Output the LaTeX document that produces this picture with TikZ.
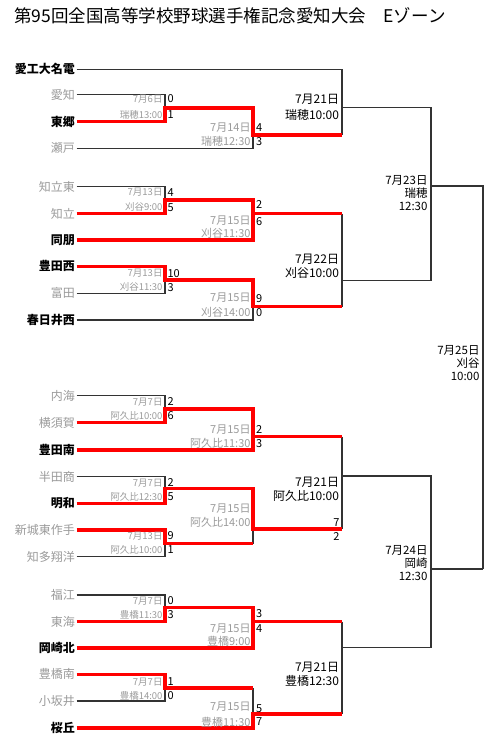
\documentclass[tikz,border=0pt]{standalone}
\usepackage{fontspec}
\setmainfont{Noto Sans CJK JP}
\usepackage{tikz}
\usetikzlibrary{calc}
\definecolor{fade}{HTML}{9A9A9A}
\definecolor{bracket}{HTML}{333333}
\definecolor{winred}{HTML}{FF0000}

\begin{document}
\begin{tikzpicture}[x=1pt,y=-1pt,
  team/.style={anchor=east,inner sep=1.5pt,font=\fontsize{12}{14}\selectfont},
  strong/.style={team,font=\fontsize{12}{14}\selectfont\bfseries},
  lost/.style={team,text=fade},
  bline/.style={draw=bracket,line width=1.1pt},
  rline/.style={draw=winred,line width=3.2pt},
  dayone/.style={anchor=east,inner sep=0.8pt,text=fade,font=\fontsize{9.5}{10}\selectfont},
  daytwo/.style={anchor=east,inner sep=0.8pt,text=fade,font=\fontsize{11}{12}\selectfont},
  daylate/.style={anchor=east,inner sep=0.8pt,align=right,font=\fontsize{12}{13}\selectfont},
  dayfinal/.style={daylate,font=\fontsize{11.5}{13}\selectfont},
  score/.style={anchor=west,inner sep=0.8pt,font=\fontsize{11}{12}\selectfont},
]
  \useasboundingbox (0,0) rectangle (500,745);
  \node[anchor=west,inner sep=0pt,font=\fontsize{17.5}{18}\selectfont] (title) at (14,16) {第95回全国高等学校野球選手権記念愛知大会　Eゾーン};

  % teams
  \node[strong] (aikodai) at (76.5,69.3) {愛工大名電};
  \node[lost] (aichi) at (76.5,94.5) {愛知};
  \node[strong] (togo) at (76.5,121.7) {東郷};
  \node[lost] (seto) at (76.5,148.3) {瀬戸};
  \node[lost] (chiryuh) at (76.5,186.8) {知立東};
  \node[lost] (chiryu) at (76.5,213.5) {知立};
  \node[strong] (doho) at (76.5,240) {同朋};
  \node[strong] (toyotan) at (76.5,266.3) {豊田西};
  \node[lost] (tomida) at (76.5,293.3) {富田};
  \node[strong] (kasugai) at (76.5,320) {春日井西};
  \node[lost] (utsumi) at (76.5,395.5) {内海};
  \node[lost] (yokosuka) at (76.5,422.5) {横須賀};
  \node[strong] (toyotas) at (76.5,450) {豊田南};
  \node[lost] (handa) at (76.5,476.7) {半田商};
  \node[strong] (meiwa) at (76.5,503.3) {明和};
  \node[lost] (shinshiro) at (76.5,530) {新城東作手};
  \node[lost] (chita) at (76.5,556.5) {知多翔洋};
  \node[lost] (fukue) at (76.5,595) {福江};
  \node[lost] (tokai) at (76.5,621.7) {東海};
  \node[strong] (okazaki) at (76.5,648) {岡崎北};
  \node[lost] (toyohashi) at (76.5,674.3) {豊橋南};
  \node[lost] (kozakai) at (76.5,701) {小坂井};
  \node[strong] (sakura) at (76.5,728) {桜丘};

  % match points
  \coordinate (m1a) at (165,108);
  \coordinate (m1b) at (165,200);
  \coordinate (m1c) at (165,280);
  \coordinate (m1d) at (165,409);
  \coordinate (m1e) at (165,488.5);
  \coordinate (m1f) at (165,543.3);
  \coordinate (m1g) at (165,607.5);
  \coordinate (m1h) at (165,688);
  \coordinate (m2a) at (253,135);
  \coordinate (m2b) at (253,213.5);
  \coordinate (m2c) at (253,306.7);
  \coordinate (m2d) at (253,436.7);
  \coordinate (m2e) at (253,529);
  \coordinate (m2f) at (253,621.5);
  \coordinate (m2g) at (253,714);
  \coordinate (m3a) at (342,107.5);
  \coordinate (m3b) at (342,280.7);
  \coordinate (m3c) at (342,476);
  \coordinate (m3d) at (342,647.7);
  \coordinate (m4a) at (431,186);
  \coordinate (m4b) at (431,569);
  \coordinate (fin) at (483,569);

  % bracket
  \draw[bline] (aikodai.east) -| (m3a) -- (m3a |- m2a);
  \draw[bline] (aichi.east) -| (m1a);
  \draw[bline] (seto.east) -| (m2a);
  \draw[bline] (chiryuh.east) -| (m1b);
  \draw[bline] (tomida.east) -| (m1c);
  \draw[bline] (kasugai.east) -| (m2c);
  \draw[bline] (m3b |- m2b) -- (m3b |- m2c);
  \draw[bline] (m3a) -| (m4a) (m3b) -| (m4a);
  \draw[bline] (utsumi.east) -| (m1d);
  \draw[bline] (handa.east) -| (m1e);
  \draw[bline] (chita.east) -| (m1f) -| (m2e);
  \draw[bline] (fukue.east) -| (m1g);
  \draw[bline] (kozakai.east) -| (m1h);
  \draw[bline] (m2g |- m1h) -- (m2g);
  \draw[bline] (m3c |- m2d) -- (m3c |- m2e);
  \draw[bline] (m3d |- m2f) -- (m3d |- m2g);
  \draw[bline] (m3c) -| (m4b) (m3d) -| (m4b);
  \draw[bline] (m4a) -| (fin) (m4b) -- (fin);

  % winners
  \draw[rline] (togo.east) -| (m1a) -| (m2a) -- (m3a |- m2a);
  \draw[rline] (chiryu.east) -| (m1b) -| (m2b);
  \draw[rline] (doho.east) -| (m2b) -- (m3b |- m2b);
  \draw[rline] (toyotan.east) -| (m1c) -| (m2c) -- (m3b |- m2c);
  \draw[rline] (yokosuka.east) -| (m1d) -| (m2d);
  \draw[rline] (toyotas.east) -| (m2d) -- (m3c |- m2d);
  \draw[rline] (meiwa.east) -| (m1e) -| (m2e) -- (m3c |- m2e);
  \draw[rline] (shinshiro.east) -| (m1f) -- (m2e |- m1f);
  \draw[rline] (tokai.east) -| (m1g) -| (m2f);
  \draw[rline] (okazaki.east) -| (m2f) -- (m3d |- m2f);
  \draw[rline] (toyohashi.east) -| (m1h) -- (m2g |- m1h);
  \draw[rline] (sakura.east) -| (m2g) -- (m3d |- m2g);

  % first round
  \node[dayone] (d1a) at (163.5,99) {7月6日};
  \node[dayone] (v1a) at (163.5,115) {瑞穂13:00};
  \node[score] (s1a) at (166.5,99) {0};
  \node[score] (t1a) at (166.5,115) {1};
  \node[dayone] (d1b) at (163.5,192.3) {7月13日};
  \node[dayone] (v1b) at (163.5,207.3) {刈谷9:00};
  \node[score] (s1b) at (166.5,192.3) {4};
  \node[score] (t1b) at (166.5,207.3) {5};
  \node[dayone] (d1c) at (163.5,273.3) {7月13日};
  \node[dayone] (v1c) at (163.5,287.3) {刈谷11:30};
  \node[score] (s1c) at (166.5,273.3) {10};
  \node[score] (t1c) at (166.5,287.3) {3};
  \node[dayone] (d1d) at (163.5,401.7) {7月7日};
  \node[dayone] (v1d) at (163.5,415.7) {阿久比10:00};
  \node[score] (s1d) at (166.5,401.7) {2};
  \node[score] (t1d) at (166.5,415.7) {6};
  \node[dayone] (d1e) at (163.5,482.7) {7月7日};
  \node[dayone] (v1e) at (163.5,496.7) {阿久比12:30};
  \node[score] (s1e) at (166.5,482.7) {2};
  \node[score] (t1e) at (166.5,496.7) {5};
  \node[dayone] (d1f) at (163.5,536) {7月13日};
  \node[dayone] (v1f) at (163.5,550) {阿久比10:00};
  \node[score] (s1f) at (166.5,536) {9};
  \node[score] (t1f) at (166.5,550) {1};
  \node[dayone] (d1g) at (163.5,601) {7月7日};
  \node[dayone] (v1g) at (163.5,615) {豊橋11:30};
  \node[score] (s1g) at (166.5,601) {0};
  \node[score] (t1g) at (166.5,615) {3};
  \node[dayone] (d1h) at (163.5,681.7) {7月7日};
  \node[dayone] (v1h) at (163.5,695.7) {豊橋14:00};
  \node[score] (s1h) at (166.5,681.7) {1};
  \node[score] (t1h) at (166.5,695.7) {0};

  % second round
  \node[daytwo] (d2a) at (251.5,127.5) {7月14日};
  \node[daytwo] (v2a) at (251.5,141) {瑞穂12:30};
  \node[score] (s2a) at (255,127.5) {4};
  \node[score] (t2a) at (255,142) {3};
  \node[daytwo] (d2b) at (251.5,221) {7月15日};
  \node[daytwo] (v2b) at (251.5,233.3) {刈谷11:30};
  \node[score] (s2b) at (255,205) {2};
  \node[score] (t2b) at (255,221.7) {6};
  \node[daytwo] (d2c) at (251.5,298) {7月15日};
  \node[daytwo] (v2c) at (251.5,312.7) {刈谷14:00};
  \node[score] (s2c) at (255,298.3) {9};
  \node[score] (t2c) at (255,312.7) {0};
  \node[daytwo] (d2d) at (251.5,429.3) {7月15日};
  \node[daytwo] (v2d) at (251.5,443.3) {阿久比11:30};
  \node[score] (s2d) at (255,430) {2};
  \node[score] (t2d) at (255,443.3) {3};
  \node[daytwo] (d2e) at (251.5,508.3) {7月15日};
  \node[daytwo] (v2e) at (251.5,522.7) {阿久比14:00};
  \node[score,anchor=east] (s2e) at (340.5,522.7) {7};
  \node[score,anchor=east] (t2e) at (340.5,536.7) {2};
  \node[daytwo] (d2f) at (251.5,628.3) {7月15日};
  \node[daytwo] (v2f) at (251.5,641) {豊橋9:00};
  \node[score] (s2f) at (255,613.3) {3};
  \node[score] (t2f) at (255,628.3) {4};
  \node[daytwo] (d2g) at (251.5,706.7) {7月15日};
  \node[daytwo] (v2g) at (251.5,722.3) {豊橋11:30};
  \node[score] (s2g) at (255,708.3) {5};
  \node[score] (t2g) at (255,721.7) {7};

  % later rounds
  \node[daylate] (d3a) at (340,99.3) {7月21日};
  \node[daylate] (v3a) at (340,115) {瑞穂10:00};
  \node[daylate] (d3b) at (340,259) {7月22日};
  \node[daylate] (v3b) at (340,273.3) {刈谷10:00};
  \node[daylate] (d3c) at (340,482.3) {7月21日};
  \node[daylate] (v3c) at (340,496) {阿久比10:00};
  \node[daylate] (d3d) at (340,667.3) {7月21日};
  \node[daylate] (v3d) at (340,681) {豊橋12:30};
  \node[dayfinal] (q4a) at (428.5,193.3) {7月23日\\瑞穂\\12:30};
  \node[dayfinal] (q4b) at (428.5,562.7) {7月24日\\岡崎\\12:30};
  \node[dayfinal] (qfin) at (480.5,363) {7月25日\\刈谷\\10:00};
\end{tikzpicture}
\end{document}
